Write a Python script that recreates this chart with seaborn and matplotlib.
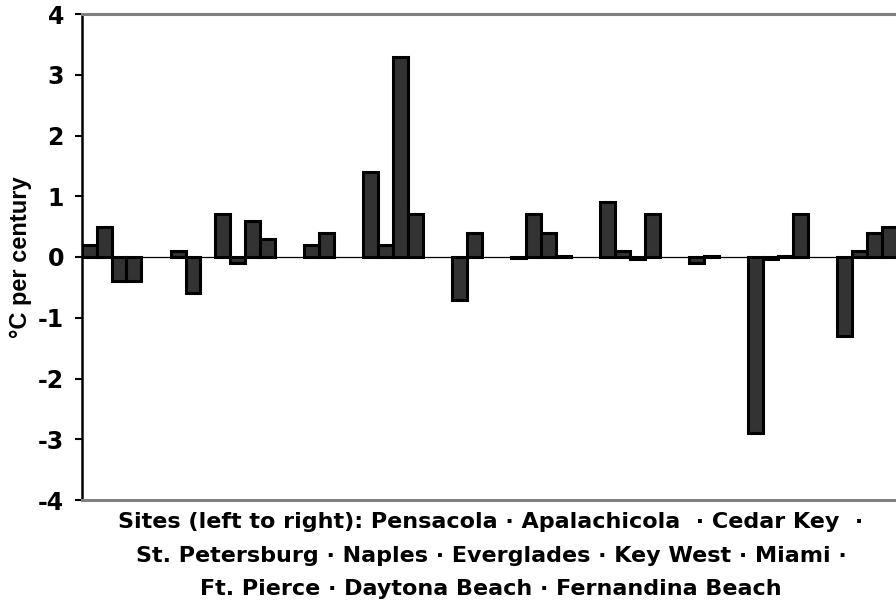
import matplotlib
matplotlib.use("Agg")
import matplotlib.pyplot as plt
import numpy as np
import pandas as pd
import seaborn as sns

# Warming trend per site, one bar per record; each site's bars sit in
# consecutive slots along the x axis, with empty slots separating sites.
sites = ["Pensacola", "Apalachicola", "Cedar Key", "St. Petersburg", "Naples",
         "Everglades", "Key West", "Miami", "Ft. Pierce", "Daytona Beach",
         "Fernandina Beach"]
site_start_slot = [0, 6, 9, 15, 19, 25, 29, 35, 41, 45, 51]
pensacola = [0.2, 0.5, -0.4, -0.4]
apalachicola = [0.1, -0.6]
cedar_key = [0.7, -0.1, 0.6, 0.3]
st_petersburg = [0.2, 0.4]
naples = [1.4, 0.2, 3.3, 0.7]
everglades = [-0.7, 0.4]
key_west = [-0.02, 0.7, 0.4, 0.02]
miami = [0.9, 0.1, -0.03, 0.7]
ft_pierce = [-0.1, 0.02]
daytona_beach = [-2.9, -0.03, 0.02, 0.7]
fernandina_beach = [-1.3, 0.1, 0.4, 0.5]
n_slots = 55
y_ticks = [-4, -3, -2, -1, 0, 1, 2, 3, 4]

series = [pensacola, apalachicola, cedar_key, st_petersburg, naples, everglades,
          key_west, miami, ft_pierce, daytona_beach, fernandina_beach]
rows = []
for site, start, vals in zip(sites, site_start_slot, series):
    for i, v in enumerate(vals):
        rows.append({"site": site, "slot": start + i, "trend": v})
df = pd.DataFrame(rows)

sns.set_theme(style="white")
plt.rcParams["font.family"] = ["Liberation Sans", "DejaVu Sans"]
plt.rcParams["font.weight"] = "bold"
plt.rcParams["text.color"] = "black"
plt.rcParams["axes.labelcolor"] = "black"
plt.rcParams["ytick.color"] = "black"
plt.rcParams["ytick.labelcolor"] = "black"
wide = ["DejaVu Sans"]

fig = plt.figure(figsize=(8.96, 6.01), dpi=100)
ax = fig.add_axes([82 / 896, 101 / 601, 818 / 896, 486 / 601])

sns.barplot(data=df, x="slot", y="trend", order=list(range(n_slots)),
            width=1.0, color="#333333", saturation=1, edgecolor="black",
            linewidth=2.2, errorbar=None, ax=ax)

ax.axhline(0, color="black", lw=0.9, zorder=0.5)
ax.set_xlim(-0.5, -0.5 + 818 / 14.81)
ax.set_ylim(-4, 4)
ax.set_yticks(y_ticks)
ax.set_yticklabels([str(t) for t in y_ticks], fontsize=17, fontweight="bold",
                   family=wide, color="black")
ax.set_xticks([])
ax.tick_params(axis="y", which="both", left=True, direction="out",
               length=5, width=1.5, color="black", pad=8)

for side in ("top", "bottom"):
    ax.spines[side].set_color("#808080")
    ax.spines[side].set_linewidth(2.2)
ax.spines["left"].set_color("black")
ax.spines["left"].set_linewidth(1.8)
ax.spines["right"].set_visible(False)

ax.set_ylabel("°C per century", fontsize=17, fontweight="bold", labelpad=4,
              color="black")
ax.set_xlabel("Sites (left to right): Pensacola · Apalachicola  · Cedar Key  ·\n"
              "St. Petersburg · Naples · Everglades · Key West · Miami ·\n"
              "Ft. Pierce · Daytona Beach · Fernandina Beach",
              fontsize=16, fontweight="bold", family=wide, labelpad=9,
              linespacing=1.82, color="black")

fig.savefig("out.png", dpi=100)
